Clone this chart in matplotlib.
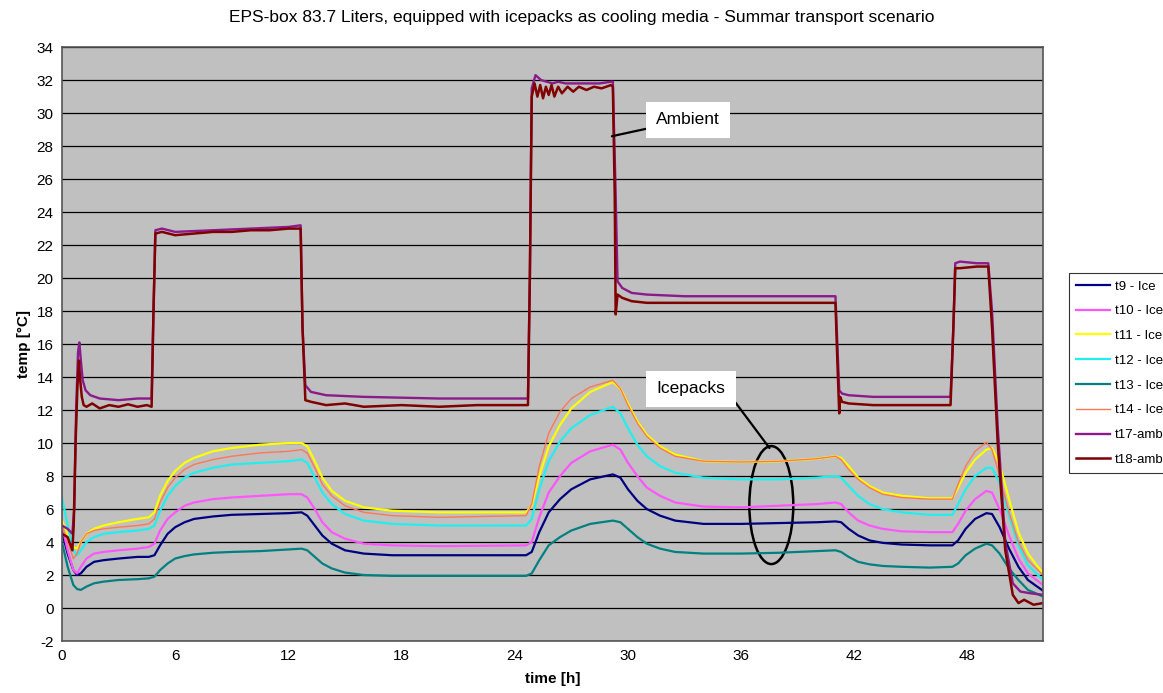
import numpy as np
import matplotlib
matplotlib.use('Agg')
import matplotlib.pyplot as plt
from matplotlib.patches import Ellipse

plt.rcParams['font.family'] = ['Liberation Sans', 'DejaVu Sans']
plt.rcParams['axes.unicode_minus'] = False

# ---------------- data ----------------
# icepack sensors, shared time grid [h]
t_ice = [0, 0.3, 0.6, 0.8, 1.0, 1.3, 1.7, 2.2, 3.0, 4.0, 4.6,
         4.9, 5.2, 5.6, 6.0, 6.5, 7.0, 8.0, 9.0, 10.5, 12.0, 12.7,
         13.0, 13.4, 13.8, 14.3, 15.0, 16.0, 17.5, 20.0, 24.6,
         24.9, 25.3, 25.8, 26.4, 27.0, 28.0, 29.2,
         29.6, 30.0, 30.5, 31.0, 31.7, 32.5, 34.0, 36.0, 38.0, 40.0, 41.0,
         41.3, 41.7, 42.2, 42.8, 43.5, 44.5, 46.0, 47.2,
         47.5, 47.9, 48.4, 49.0,
         49.3, 49.7, 50.2, 50.7, 51.2, 52.0]

t9 = [4.6, 3.3, 2.3, 2.0, 2.1, 2.5, 2.8, 2.9, 3.0, 3.1, 3.1,
      3.2, 3.8, 4.5, 4.9, 5.2, 5.4, 5.55, 5.65, 5.7, 5.75, 5.8,
      5.6, 5.0, 4.4, 3.9, 3.5, 3.3, 3.2, 3.2, 3.2,
      3.4, 4.6, 5.8, 6.6, 7.2, 7.8, 8.1,
      7.9, 7.2, 6.5, 6.0, 5.6, 5.3, 5.1, 5.1, 5.15, 5.2, 5.25,
      5.2, 4.8, 4.4, 4.1, 3.95, 3.85, 3.8, 3.8,
      4.1, 4.8, 5.4, 5.75,
      5.7, 4.9, 3.6, 2.5, 1.7, 1.05]
t10 = [5.0, 3.5, 2.3, 2.1, 2.5, 3.0, 3.3, 3.4, 3.5, 3.6, 3.7,
       3.9, 4.7, 5.4, 5.8, 6.2, 6.4, 6.6, 6.7, 6.8, 6.9, 6.9,
       6.7, 6.0, 5.2, 4.6, 4.2, 3.9, 3.8, 3.75, 3.8,
       4.0, 5.5, 7.0, 8.0, 8.8, 9.5, 9.9,
       9.6, 8.8, 8.0, 7.3, 6.8, 6.4, 6.15, 6.1, 6.2, 6.3, 6.4,
       6.3, 5.8, 5.3, 5.0, 4.8, 4.65, 4.6, 4.6,
       5.1, 5.9, 6.6, 7.1,
       7.0, 6.0, 4.4, 3.0, 2.1, 1.4]
t11 = [5.3, 4.5, 3.7, 3.6, 4.0, 4.5, 4.8, 5.0, 5.2, 5.4, 5.5,
       5.8, 6.8, 7.7, 8.3, 8.8, 9.1, 9.5, 9.7, 9.9, 10.0, 10.0,
       9.8, 8.9, 7.9, 7.1, 6.5, 6.1, 5.9, 5.8, 5.8,
       6.2, 8.0, 9.8, 11.1, 12.1, 13.1, 13.7,
       13.3, 12.4, 11.3, 10.5, 9.8, 9.3, 8.9, 8.85, 8.9, 9.05, 9.2,
       9.1, 8.6, 7.9, 7.4, 7.0, 6.8, 6.65, 6.65,
       7.3, 8.2, 9.0, 9.6,
       9.7, 8.7, 6.6, 4.6, 3.3, 2.1]
t12 = [6.7, 5.0, 3.5, 3.2, 3.5, 4.0, 4.3, 4.5, 4.6, 4.7, 4.8,
       5.0, 5.9, 6.8, 7.4, 7.9, 8.2, 8.5, 8.7, 8.8, 8.9, 9.0,
       8.8, 7.9, 7.0, 6.3, 5.7, 5.3, 5.1, 5.0, 5.0,
       5.4, 7.2, 8.9, 10.1, 10.9, 11.7, 12.2,
       11.8, 10.9, 9.9, 9.2, 8.6, 8.2, 7.9, 7.8, 7.8, 7.9, 8.0,
       7.9, 7.4, 6.8, 6.3, 6.0, 5.8, 5.65, 5.65,
       6.3, 7.2, 8.0, 8.5,
       8.5, 7.6, 5.6, 3.8, 2.6, 1.7]
t13 = [4.0, 2.5, 1.4, 1.15, 1.1, 1.3, 1.5, 1.6, 1.7, 1.75, 1.8,
       1.9, 2.3, 2.7, 3.0, 3.15, 3.25, 3.35, 3.4, 3.45, 3.55, 3.6,
       3.5, 3.1, 2.7, 2.4, 2.15, 2.0, 1.95, 1.95, 1.95,
       2.1, 2.9, 3.8, 4.3, 4.7, 5.1, 5.3,
       5.2, 4.8, 4.3, 3.9, 3.6, 3.4, 3.3, 3.3, 3.35, 3.45, 3.5,
       3.4, 3.1, 2.8, 2.65, 2.55, 2.5, 2.45, 2.5,
       2.7, 3.2, 3.6, 3.9,
       3.8, 3.3, 2.4, 1.7, 1.1, 0.7]
t14 = [5.0, 4.0, 3.0, 3.3, 4.0, 4.5, 4.7, 4.8, 4.9, 5.0, 5.1,
       5.4, 6.4, 7.3, 7.9, 8.4, 8.7, 9.0, 9.2, 9.4, 9.5, 9.6,
       9.4, 8.5, 7.5, 6.8, 6.2, 5.8, 5.6, 5.5, 5.6,
       6.3, 8.6, 10.6, 11.9, 12.7, 13.4, 13.8,
       13.3, 12.3, 11.2, 10.4, 9.7, 9.2, 8.9, 8.85, 8.9, 9.05, 9.2,
       9.0, 8.4, 7.8, 7.3, 6.9, 6.7, 6.6, 6.6,
       7.5, 8.6, 9.5, 10.05,
       9.6, 8.0, 5.8, 4.0, 2.9, 2.0]

# ambient sensors
t_t17 = [0, 0.3, 0.55, 0.65, 0.75, 0.85, 0.92, 1.0, 1.1, 1.25, 1.5, 2.0, 3.0, 4.0,
         4.75, 4.85, 4.95, 5.3, 6.0, 8.0, 10.0, 12.0, 12.65,
         12.75, 12.9, 13.2, 14.0, 16.0, 20.0, 24.7,
         24.8, 24.9, 25.1, 25.4, 25.7, 26.0, 26.3, 26.7, 27.2, 27.8, 28.5, 29.1, 29.2,
         29.35, 29.45, 29.7, 30.2, 31.0, 33.0, 36.0, 39.0, 41.0,
         41.1, 41.2, 41.35, 41.7, 43.0, 45.0, 47.1,
         47.25, 47.35, 47.6, 48.5, 49.1,
         49.3, 49.6, 50.0, 50.4, 50.8, 51.3, 52.0]
t17 = [5.0, 4.8, 4.5, 6.0, 12.0, 15.5, 16.1, 15.0, 13.8, 13.2, 12.9, 12.7, 12.6, 12.7,
       12.7, 18.0, 22.9, 23.0, 22.8, 22.9, 23.0, 23.1, 23.2,
       17.0, 13.5, 13.1, 12.9, 12.8, 12.7, 12.7,
       20.0, 31.5, 32.3, 32.0, 31.9, 31.8, 31.9, 31.8, 31.8, 31.8, 31.8, 31.9, 31.9,
       25.0, 19.8, 19.4, 19.1, 19.0, 18.9, 18.9, 18.9, 18.9,
       16.0, 13.2, 13.0, 12.9, 12.8, 12.8, 12.8,
       17.0, 20.9, 21.0, 20.9, 20.9,
       18.0, 11.0, 4.0, 1.5, 1.0, 0.9, 0.8]

t_t18 = [0, 0.3, 0.55, 0.62, 0.72, 0.82, 0.9, 0.95, 1.05, 1.15, 1.3, 1.6, 2.0, 2.5,
         3.0, 3.5, 4.0, 4.5, 4.75, 4.85, 4.95, 5.3, 6.0, 7.0, 8.0, 9.0, 10.0, 11.0,
         12.0, 12.65, 12.75, 12.9, 13.2, 14.0, 15.0, 16.0, 18.0, 20.0, 22.0, 24.7,
         24.8, 24.9, 25.05, 25.2, 25.35, 25.5, 25.65, 25.8, 25.95, 26.1, 26.3, 26.5,
         26.8, 27.1, 27.4, 27.8, 28.2, 28.6, 29.1, 29.2, 29.3, 29.35, 29.45, 29.7,
         30.2, 31.0, 33.0, 36.0, 39.0, 41.0, 41.1, 41.2, 41.25, 41.35, 41.7, 43.0,
         45.0, 47.1, 47.25, 47.35, 47.6, 48.5, 49.1, 49.3, 49.6, 50.0, 50.4, 50.7,
         51.0, 51.5, 52.0]
t18 = [4.5, 4.3, 3.5, 5.0, 10.0, 13.5, 15.0, 14.0, 12.8, 12.3, 12.2, 12.4, 12.1, 12.3,
       12.2, 12.35, 12.2, 12.3, 12.2, 18.0, 22.7, 22.8, 22.6, 22.7, 22.8, 22.8, 22.9, 22.9,
       23.0, 23.0, 17.0, 12.6, 12.5, 12.3, 12.4, 12.2, 12.3, 12.2, 12.3, 12.3,
       20.0, 31.0, 31.8, 31.0, 31.7, 30.9, 31.6, 31.1, 31.7, 31.0, 31.6, 31.2,
       31.6, 31.3, 31.6, 31.4, 31.6, 31.5, 31.7, 31.6, 25.0, 17.8, 19.0, 18.8,
       18.6, 18.5, 18.5, 18.5, 18.5, 18.5, 15.0, 11.8, 12.8, 12.5, 12.4, 12.3,
       12.3, 12.3, 17.0, 20.6, 20.6, 20.7, 20.7, 17.0, 10.0, 3.5, 0.8, 0.3,
       0.5, 0.2, 0.3]

ice_series = [('t9 - Ice', t9, '#000080', 1.6),
              ('t10 - Ice', t10, '#FF55FF', 1.6),
              ('t11 - Ice', t11, '#FFFF00', 1.6),
              ('t12 - Ice', t12, '#22EEEE', 1.6),
              ('t13 - Ice', t13, '#008080', 1.6),
              ('t14 - Ice', t14, '#FF7755', 1.0)]

fig = plt.figure(figsize=(11.63, 6.93), dpi=100)
ax = fig.add_axes([0.0533, 0.075, 0.8435, 0.857])
ax.set_facecolor('#C0C0C0')

for lab, vals, col, lw in ice_series:
    ax.plot(t_ice, vals, color=col, lw=lw, label=lab)
ax.plot(t_t17, t17, color='#8B1A8B', lw=1.7, label='t17-amb')
ax.plot(t_t18, t18, color='#800000', lw=1.8, label='t18-amb')

ax.set_xlim(0, 52)
ax.set_ylim(-2, 34)
ax.set_xticks(np.arange(0, 49, 6))
ax.set_yticks(np.arange(-2, 35, 2))
ax.yaxis.grid(True, color='black', lw=0.9)
ax.set_axisbelow(True)
ax.tick_params(labelsize=11, length=0, pad=6)
for s in ax.spines.values():
    s.set_color('#555555')
    s.set_linewidth(1.2)

ax.set_xlabel('time [h]', fontsize=11, fontweight='bold', labelpad=6)
ax.set_ylabel('temp [°C]', fontsize=11, fontweight='bold', labelpad=4)
fig.suptitle('EPS-box 83.7 Liters, equipped with icepacks as cooling media - Summar transport scenario',
             x=0.5, y=0.985, fontsize=12.5)

# annotations
box = dict(boxstyle='square,pad=0.6', fc='white', ec='none')
ax.annotate('Ambient', xy=(29.15, 28.6), xytext=(31.5, 29.6),
            fontsize=12.5, va='center', ha='left', bbox=box,
            arrowprops=dict(arrowstyle='-', color='black', lw=1.6, shrinkA=0, shrinkB=0))
ax.annotate('Icepacks', xy=(37.5, 9.7), xytext=(31.5, 13.3),
            fontsize=12.5, va='center', ha='left', bbox=box,
            arrowprops=dict(arrowstyle='-', color='black', lw=1.6, shrinkA=0, shrinkB=0,
                            relpos=(1.0, 0.5)))
ax.add_patch(Ellipse((37.6, 6.24), 2.33, 7.15, fill=False, ec='black', lw=1.8))

leg = fig.legend(loc='upper left', bbox_to_anchor=(0.919, 0.606), borderaxespad=0,
                 fontsize=9.5, handlelength=2.6, handletextpad=0.35, labelspacing=0.95,
                 frameon=True, fancybox=False, edgecolor='black', borderpad=0.55)
leg.get_frame().set_linewidth(0.8)

fig.savefig('out.png', dpi=100)
